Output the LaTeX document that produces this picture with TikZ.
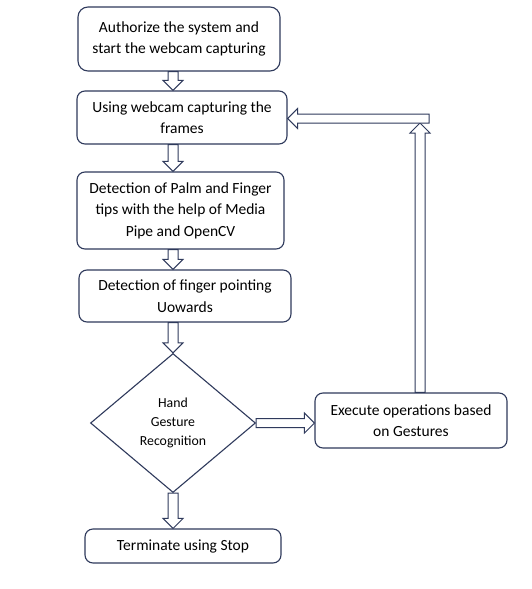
\documentclass[tikz,border=0pt]{standalone}
\usepackage{fontspec}
\setmainfont{Carlito}
\usetikzlibrary{calc,shapes.geometric}
\definecolor{navy}{HTML}{2F3A5C}
\tikzset{
  box/.style={draw=navy, line width=1.1pt, rounded corners=8pt, align=center, inner sep=0pt,
    font=\fontsize{15.5}{21.5}\selectfont, text=black, fill=white},
  dec/.style={draw=navy, line width=1.1pt, diamond, align=center, inner sep=0pt,
    font=\fontsize{13.8}{19}\selectfont, text=black},
  blk/.style={draw=navy, line width=1pt, fill=white, line join=miter}
}
\newcommand\arrDown[2]{\draw[blk] let \p1=(#1), \p2=(#2) in
  (\x1-5pt,\y1) -- (\x1-5pt,\y2+10pt) -- (\x1-10pt,\y2+10pt) -- (\x2,\y2) --
  (\x1+10pt,\y2+10pt) -- (\x1+5pt,\y2+10pt) -- (\x1+5pt,\y1) -- cycle;}
\newcommand\arrUp[2]{\draw[blk] let \p1=(#1), \p2=(#2) in
  (\x1-5pt,\y1) -- (\x1-5pt,\y2-10pt) -- (\x1-10pt,\y2-10pt) -- (\x2,\y2) --
  (\x1+10pt,\y2-10pt) -- (\x1+5pt,\y2-10pt) -- (\x1+5pt,\y1) -- cycle;}
\newcommand\arrRight[2]{\draw[blk] let \p1=(#1), \p2=(#2) in
  (\x1,\y1+4.5pt) -- (\x2-10pt,\y1+4.5pt) -- (\x2-10pt,\y1+10pt) -- (\x2,\y1) --
  (\x2-10pt,\y1-10pt) -- (\x2-10pt,\y1-4.5pt) -- (\x1,\y1-4.5pt) -- cycle;}
\newcommand\arrLeft[2]{\draw[blk] let \p1=(#1), \p2=(#2) in
  (\x1,\y1+4.5pt) -- (\x2+10pt,\y1+4.5pt) -- (\x2+10pt,\y1+10pt) -- (\x2,\y1) --
  (\x2+10pt,\y1-10pt) -- (\x2+10pt,\y1-4.5pt) -- (\x1,\y1-4.5pt) -- cycle;}
\begin{document}
\begin{tikzpicture}[x=1pt,y=-1pt]
\useasboundingbox (0,0) rectangle (531,589);
\fill[white] (0,0) rectangle (531,589);

\node[box, minimum width=202pt, minimum height=64pt, rounded corners=10pt] (b1) at (179,39)
  {Authorize the system and\\start the webcam capturing};
\node[box, minimum width=210pt, minimum height=53pt] (b2) at (182,117.5)
  {Using webcam capturing the\\frames};
\node[box, minimum width=207pt, minimum height=77pt] (b3) at (180.5,210.5)
  {Detection of Palm and Finger\\tips with the help of Media\\Pipe and OpenCV};
\node[box, minimum width=212pt, minimum height=52pt] (b4) at (185,296)
  {Detection of finger pointing\\Uowards};
\node[dec, minimum width=165pt, minimum height=139pt, shape aspect=1.19] (d) at (173,423)
  {Hand\\Gesture\\Recognition};
\node[box, minimum width=192pt, minimum height=55pt] (ex) at (411,420.5)
  {Execute operations based\\on Gestures};
\node[box, minimum width=196pt, minimum height=34pt] (t) at (183,546)
  {Terminate using Stop};

\coordinate (ax) at (173,0);
\coordinate (fbtip) at (420,123);
\coordinate (fbend) at (429,118.5);

\arrDown{ax |- b1.south}{ax |- b2.north}
\arrDown{ax |- b2.south}{ax |- b3.north}
\arrDown{ax |- b3.south}{ax |- b4.north}
\arrDown{ax |- b4.south}{d.north}
\arrDown{d.south}{ax |- t.north}
\arrRight{d.east}{ex.west |- d.east}
\arrUp{fbtip |- ex.north}{fbtip}
\arrLeft{fbend}{b2.east |- fbend}
\end{tikzpicture}
\end{document}
